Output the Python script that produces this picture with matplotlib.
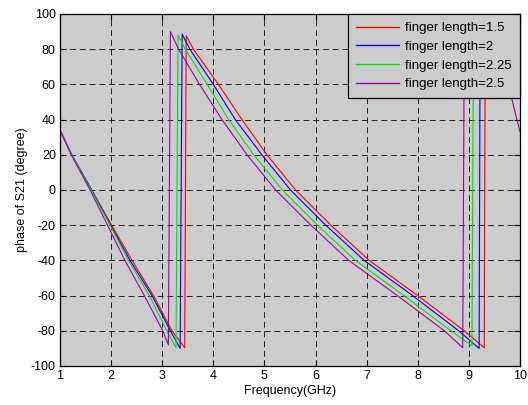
import numpy as np
import matplotlib
matplotlib.use('Agg')
import matplotlib.pyplot as plt

plt.rcParams['font.family'] = ['Liberation Sans', 'DejaVu Sans']
plt.rcParams['font.size'] = 9
plt.rcParams['axes.unicode_minus'] = False

# values (frequency in GHz, phase in degree)
labels = ['finger length=1.5', 'finger length=2', 'finger length=2.25', 'finger length=2.5']
colors = ['#ff0000', '#0000ff', '#00e000', '#a000a8']

f_15 = [1, 1.23, 1.62, 2.01, 2.41, 2.83, 3.19, 3.44, 3.47, 3.61, 4.10, 4.56, 5.05, 5.61, 6.30, 7.05, 8.00, 8.91, 9.30, 9.32, 10]
p_15 = [34, 20, 0, -20, -40, -60, -80, -89.6, 87.6, 80, 60, 40, 20, 0, -20, -40, -60, -80, -89.6, 88, 62]

f_2 = [1, 1.23, 1.62, 1.99, 2.37, 2.80, 3.16, 3.35, 3.39, 3.54, 4.00, 4.43, 4.95, 5.51, 6.20, 6.95, 7.90, 8.80, 9.20, 9.22, 10]
p_2 = [34, 20, 0, -20, -40, -60, -80, -90, 88.6, 80, 60, 40, 20, 0, -20, -40, -60, -80, -90, 89, 61]

f_225 = [1, 1.23, 1.61, 1.98, 2.34, 2.75, 3.09, 3.27, 3.31, 3.45, 3.88, 4.30, 4.79, 5.35, 6.04, 6.78, 7.73, 8.65, 9.06, 9.09, 10]
p_225 = [34, 20, 0, -20, -40, -60, -80, -89.6, 88, 80, 60, 40, 20, 0, -20, -40, -60, -80, -88.5, 89, 60]

f_25 = [1, 1.22, 1.59, 1.93, 2.27, 2.65, 3.01, 3.12, 3.16, 3.32, 3.73, 4.17, 4.66, 5.22, 5.91, 6.65, 7.60, 8.52, 8.88, 8.91, 9.50, 9.82, 10]
p_25 = [34, 20, 0, -20, -40, -60, -80, -88, 90, 80, 60, 40, 20, 0, -20, -40, -60, -80, -89.6, 90, 68, 54, 33]

freqs = [f_15, f_2, f_225, f_25]
phases = [p_15, p_2, p_225, p_25]

fig = plt.figure(figsize=(5.28, 4.05), dpi=100)
ax = fig.add_axes([60/528, 39/405, 460/528, 352/405])
ax.set_facecolor('#cccccc')

for f, p, c, lab in zip(freqs, phases, colors, labels):
    ax.plot(f, p, color=c, lw=0.8, label=lab)

ax.set_xlim(1, 10)
ax.set_ylim(-100, 100)
ax.set_xticks(np.arange(1, 11, 1))
ax.set_yticks(np.arange(-100, 101, 20))
ax.tick_params(direction='in', length=4, width=0.8, top=True, right=True, labelsize=9, pad=3)
ax.grid(True, color='#222222', linestyle=(0, (6, 4)), linewidth=0.7)
for s in ax.spines.values():
    s.set_linewidth(0.9)

ax.set_xlabel('Frequency(GHz)', fontsize=9, labelpad=2)
ax.set_ylabel('phase of S21 (degree)', fontsize=9, labelpad=2)

leg = ax.legend(loc='upper right', borderaxespad=0, fancybox=False, framealpha=1,
                edgecolor='black', facecolor='#cccccc', fontsize=9.5,
                handlelength=3.2, labelspacing=0.48, borderpad=0.62, handletextpad=0.5)
leg.get_frame().set_linewidth(0.9)
for h in leg.get_lines():
    h.set_linewidth(1.0)

plt.savefig('out.png', dpi=100)
plt.close()
